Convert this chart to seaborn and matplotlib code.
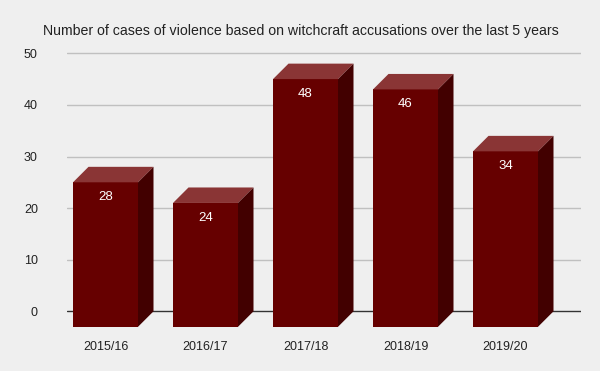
import matplotlib
matplotlib.use("Agg")
import matplotlib.pyplot as plt
from matplotlib.patches import Polygon
import seaborn as sns
import pandas as pd

years = ["2015/16", "2016/17", "2017/18", "2018/19", "2019/20"]
cases = [28, 24, 48, 46, 34]
y_ticks = [0, 10, 20, 30, 40, 50]
title = "Number of cases of violence based on witchcraft accusations over the last 5 years"

BG = "#efefef"
FRONT = "#660000"
TOP = "#8a3535"
SIDE = "#420000"

sns.set_theme(style="white")
plt.rcParams["font.family"] = ["Liberation Sans", "DejaVu Sans"]

fig = plt.figure(figsize=(6.0, 3.71), dpi=100, facecolor=BG)
ax = fig.add_axes([67 / 600, 41 / 371, 514 / 600, 280 / 371])
ax.set_facecolor(BG)

df = pd.DataFrame({"year": years, "cases": cases})
half = 0.325   # half width of front face (categories)
dx = 0.155     # depth offset in x (categories)
dy = 3.0       # depth offset in y (value units)

sns.barplot(data=df, x="year", y="cases", color=FRONT, width=2 * half,
            saturation=1, ax=ax, zorder=3, linewidth=0)
for p in ax.patches:
    p.set_y(-dy)
    p.set_facecolor(FRONT)

for i, v in enumerate(cases):
    top = Polygon([(i - half, v - dy), (i + half, v - dy), (i + half + dx, v),
                   (i - half + dx, v)], closed=True, facecolor=TOP,
                  edgecolor="none", zorder=3)
    side = Polygon([(i + half, -dy), (i + half + dx, 0), (i + half + dx, v),
                    (i + half, v - dy)], closed=True, facecolor=SIDE,
                   edgecolor="none", zorder=3)
    ax.add_patch(top)
    ax.add_patch(side)
    ax.text(i, v - dy - 2.9, str(v), ha="center", va="center", color="white",
            fontsize=9.5, zorder=4)

for t in y_ticks:
    ax.axhline(t, color="#333333" if t == 0 else "#c0c0c0",
               lw=1.0, zorder=1)

ax.set_xlim(-0.385, 4.755)
ax.set_ylim(-3.62, 50.64)
ax.set_yticks(y_ticks)
ax.set_xticks(range(len(years)))
ax.set_xticklabels(years)
ax.tick_params(axis="both", length=0, labelsize=9, colors="#222222")
ax.tick_params(axis="y", pad=21)
ax.tick_params(axis="x", pad=8)
ax.set_xlabel("")
ax.set_ylabel("")
for s in ax.spines.values():
    s.set_visible(False)
ax.grid(False)

fig.text(301 / 600, 1 - 31 / 371, title, ha="center", va="center",
         fontsize=10.2, color="#222222")

fig.savefig("out.png", dpi=100, facecolor=BG)
